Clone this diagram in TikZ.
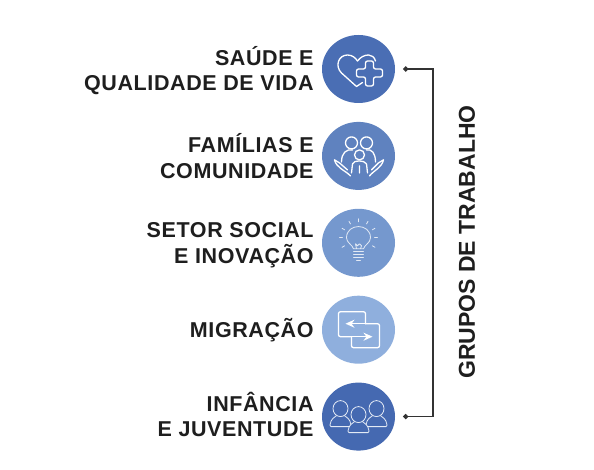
\documentclass[tikz,border=0pt]{standalone}
\usepackage{fontspec}
\setmainfont{Liberation Sans}
\usetikzlibrary{arrows.meta,positioning,shapes.geometric,calc}
\definecolor{azulA}{HTML}{4A6EB4}
\definecolor{azulB}{HTML}{5F82BF}
\definecolor{azulC}{HTML}{7598CE}
\definecolor{azulD}{HTML}{8FAFDD}
\definecolor{azulE}{HTML}{4569B1}
\definecolor{texto}{HTML}{1E1E1E}

\begin{document}
\begin{tikzpicture}[
  x=1pt, y=-1pt,
  node distance=18.5pt and 8pt,
  disco/.style={ellipse, minimum width=73pt, minimum height=68pt, inner sep=0pt},
  rotulo/.style={align=right, inner sep=0pt, text=texto, font=\fontsize{21.5}{25.5}\selectfont\bfseries\addfontfeature{LetterSpace=2.8}},
  icone/.style={draw=white, line width=1.3pt, line join=round, line cap=round},
  iconefino/.style={draw=white!80!azulC, line width=0.8pt, line join=round, line cap=round},
  chave/.style={draw=black!80, line width=1.6pt},
]
\useasboundingbox (0,0) rectangle (594,470);

\node[disco, fill=azulA] (saude) at (358.5,69) {};
\node[disco, fill=azulB, below=of saude] (familias) {};
\node[disco, fill=azulC, below=of familias] (setor) {};
\node[disco, fill=azulD, below=of setor] (migracao) {};
\node[disco, fill=azulE, below=of migracao] (infancia) {};

\node[rotulo, left=of saude, yshift=-1.5pt] (tsaude) {SAÚDE E\\QUALIDADE DE VIDA};
\node[rotulo, left=of familias] (tfamilias) {FAMÍLIAS E\\COMUNIDADE};
\node[rotulo, left=of setor, yshift=-2.5pt] (tsetor) {SETOR SOCIAL\\E INOVAÇÃO};
\node[rotulo, left=of migracao] (tmigracao) {MIGRAÇÃO};
\node[rotulo, left=of infancia, yshift=2pt] (tinfancia) {INFÂNCIA\\E JUVENTUDE};

% chave
\coordinate[right=8pt of saude] (pontoA);
\coordinate[right=8pt of infancia] (pontoB);
\coordinate[right=29.5pt of pontoA] (cantoA);
\coordinate[right=29.5pt of pontoB] (cantoB);
\draw[chave, {Circle[length=5pt]}-{Circle[length=5pt]}] (pontoA) -- (cantoA) -- (cantoB) -- (pontoB);
\node[rotate=90, inner sep=0pt, text=texto, font=\fontsize{23}{23}\selectfont\bfseries] (grupos) at (467,242) {GRUPOS DE TRABALHO};

% coracao e cruz
\begin{scope}[shift={(saude.center)}]
  \draw[icone] (4,13.5) -- (-2,17.5) -- (-17,4) .. controls (-24,-3) and (-20,-14) .. (-11,-14)
    .. controls (-6,-14) and (-3,-11) .. (-1,-8) .. controls (2,-12) and (6,-14) .. (10,-14)
    .. controls (13,-14) and (16,-12) .. (17,-8);
  \draw[icone, rounded corners=2pt] (7,-8) -- (15,-8) -- (15,0) -- (24,0) -- (24,8) -- (15,8) -- (15,17) -- (7,17)
    -- (7,8) -- (-2,8) -- (-2,0) -- (7,0) -- cycle;
\end{scope}

% familia
\begin{scope}[shift={(familias.center)}]
  \draw[icone] (-7,-13) circle (6) (8,-13) circle (6) (1,-1) circle (5);
  \draw[icone] (-17,6) .. controls (-17,-3) and (-12,-7) .. (-6,-6) (17,6) .. controls (17,-3) and (13,-7) .. (8,-6);
  \draw[icone] (-7,17) -- (-6,8) .. controls (-5,4) and (6,4) .. (8,8) -- (9,17) (1,10) -- (1,17);
  \draw[icone] (-24,4) .. controls (-22,12) and (-14,14) .. (-8,20) (25,4) .. controls (23,12) and (16,14) .. (11,20);
  \draw[icone] (-24,4) -- (-19,7) -- (-11,14) (25,4) -- (20,7) -- (13,14);
\end{scope}

% lampada
\begin{scope}[shift={(setor.center)}]
  \draw[iconefino] (-5,6) .. controls (-6,2) and (-12,0) .. (-12,-5)
    .. controls (-12,-20) and (12,-20) .. (12,-5) .. controls (12,0) and (6,2) .. (5,6) -- cycle;
  \draw[iconefino] (-5,9) -- (5,9) (-5,12) -- (5,12) (-5,15) -- (5,15) (-2,18) -- (2,18);
  \draw[iconefino] (-2,6) -- (-3,1) -- (-1,3) -- (1,1) -- (3,3) -- (2,6);
  \foreach \ang in {-180,-150,-120,-90,-60,-30,0,30,150} {
    \draw[iconefino] ($(0,-5)+(\ang:16)$) -- ($(0,-5)+(\ang:19)$);
  }
\end{scope}

% setas
\begin{scope}[shift={(migracao.center)}]
  \draw[icone, rounded corners=2pt] (-8,7) -- (-20,7) -- (-20,-18) -- (7,-18) -- (7,-6);
  \draw[icone, rounded corners=2pt] (-7,7) -- (-7,18) -- (21,18) -- (21,-6) -- (7,-6);
  \draw[icone, -{Stealth[length=9pt,width=8pt]}] (7,-6) -- (-13,-6);
  \draw[icone, -{Stealth[length=9pt,width=8pt]}] (-8,7) -- (14,7);
\end{scope}

% tres pessoas
\begin{scope}[shift={(infancia.center)}]
  \foreach \px/\py in {-18/-8,18/-8,0/-2} {
    \draw[iconefino, fill=azulE, rounded corners=1.5pt] ($(\px,\py)+(-4,7)$) -- ($(\px,\py)+(-9,11)$) -- ($(\px,\py)+(-11,18)$)
      -- ($(\px,\py)+(11,18)$) -- ($(\px,\py)+(9,11)$) -- ($(\px,\py)+(4,7)$);
    \draw[iconefino, fill=azulE] (\px,\py) ellipse (7.5 and 8);
  }
\end{scope}
\end{tikzpicture}
\end{document}
